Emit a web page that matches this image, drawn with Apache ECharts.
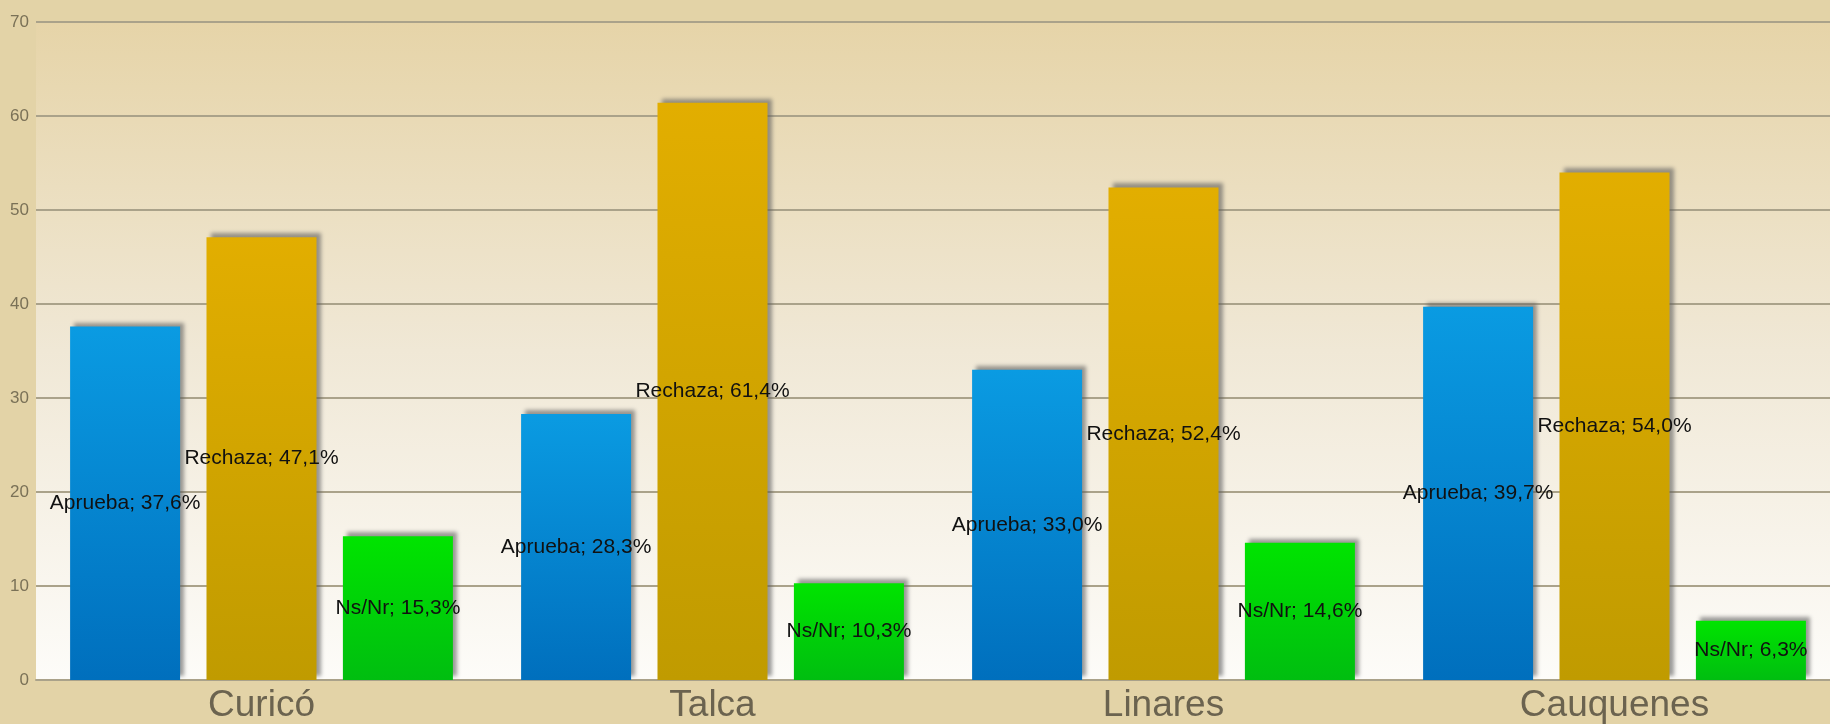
<!DOCTYPE html>
<html>
<head>
<meta charset="utf-8">
<script src="https://cdn.jsdelivr.net/npm/echarts@6/dist/echarts.min.js"></script>
<style>
  html, body { margin: 0; padding: 0; background: #e3d3a7; overflow: hidden; }
  #chart { width: 1840px; height: 724px; }
</style>
</head>
<body>
<div id="chart"></div>
<script>
const categories = ['Curicó', 'Talca', 'Linares', 'Cauquenes'];
const aprueba = [37.6, 28.3, 33.0, 39.7];
const rechaza = [47.1, 61.4, 52.4, 54.0];
const nsnr = [15.3, 10.3, 14.6, 6.3];
const yTicks = { min: 0, max: 70, interval: 10 };

const chart = echarts.init(document.getElementById('chart'), null, { renderer: 'canvas' });

function grad(top, bottom) {
  return new echarts.graphic.LinearGradient(0, 0, 0, 1, [
    { offset: 0, color: top },
    { offset: 1, color: bottom }
  ]);
}

function makeSeries(name, data, top, bottom) {
  return {
    name: name,
    type: 'bar',
    data: data,
    barWidth: 110,
    barGap: '24%',
    itemStyle: {
      color: grad(top, bottom),
      shadowColor: 'rgba(90,90,90,0.6)',
      shadowBlur: 4,
      shadowOffsetX: 4,
      shadowOffsetY: -4
    },
    label: {
      show: true,
      position: 'inside',
      fontFamily: 'Liberation Sans, Arial, sans-serif',
      fontSize: 21,
      color: '#111',
      formatter: function (p) {
        return name + '; ' + p.value.toFixed(1).replace('.', ',') + '%';
      }
    }
  };
}

chart.setOption({
  backgroundColor: '#e3d3a7',
  animation: false,
  grid: {
    left: 36, right: 0, top: 22, bottom: 43,
    show: true,
    borderWidth: 0,
    backgroundColor: new echarts.graphic.LinearGradient(0, 0, 0, 1, [
      { offset: 0, color: '#e6d4a8' },
      { offset: 0.5, color: '#f0e8d6' },
      { offset: 1, color: '#fdfcf9' }
    ])
  },
  xAxis: {
    type: 'category',
    data: categories,
    axisLine: { show: true, lineStyle: { color: '#aaa28a', width: 2 } },
    axisTick: { show: false },
    axisLabel: {
      fontFamily: 'Liberation Sans, Arial, sans-serif',
      fontSize: 37,
      color: '#6b634f',
      margin: 7
    }
  },
  yAxis: {
    type: 'value',
    min: yTicks.min,
    max: yTicks.max,
    interval: yTicks.interval,
    axisLine: { show: false },
    axisTick: { show: false },
    splitLine: { lineStyle: { color: '#aaa28a', width: 2 } },
    axisLabel: {
      fontFamily: 'Liberation Sans, Arial, sans-serif',
      fontSize: 17,
      color: '#7a7157',
      margin: 7
    }
  },
  series: [
    makeSeries('Aprueba', aprueba, '#0a9be2', '#006fbd'),
    makeSeries('Rechaza', rechaza, '#e2ae00', '#c09b00'),
    makeSeries('Ns/Nr', nsnr, '#00e400', '#00be10')
  ]
});
</script>
</body>
</html>
